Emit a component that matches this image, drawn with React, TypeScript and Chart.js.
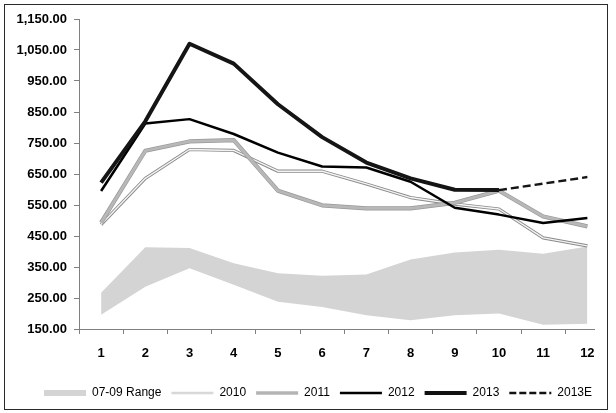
import React, { useEffect, useRef } from 'react';
import { Chart, registerables } from 'chart.js';

Chart.register(...registerables);

const months = [1, 2, 3, 4, 5, 6, 7, 8, 9, 10, 11, 12];
const monthLabels = ['1', '2', '3', '4', '5', '6', '7', '8', '9', '10', '11', '12'];

const range0709Low = [196, 286, 346, 293, 238, 221, 194, 178, 194, 200, 164, 167];
const range0709High = [267, 414, 411, 362, 330, 322, 326, 374, 397, 406, 393, 416];
const y2010 = [487, 636, 729, 726, 659, 659, 618, 574, 553, 537, 444, 418];
const y2011 = [493, 725, 755, 759, 596, 549, 539, 539, 557, 596, 513, 481];
const y2012 = [595, 813, 827, 779, 719, 674, 671, 625, 541, 519, 492, 508];
const y2013 = [622, 820, 1070, 1006, 875, 769, 687, 636, 599, 598, null, null];
const y2013E = [null, null, null, null, null, null, null, null, null, 598, 619, 640];

const yMin = 150;
const yMax = 1150;
const yStep = 100;

const FONT = 'Liberation Sans, Arial, sans-serif';

const pts = (arr: (number | null)[]) => arr.map((v, i) => ({ x: months[i], y: v }));

export default function App() {
  const ref = useRef<HTMLCanvasElement>(null);

  useEffect(() => {
    if (!ref.current) return;

    const borderPlugin = {
      id: 'outerBorder',
      beforeDraw(chart: any) {
        const lg = chart.legend;
        if (lg && !lg._shifted) {
          lg.left += 8;
          lg.right += 8;
          lg._shifted = true;
        }
      },
      afterDraw(chart: any) {
        const ctx = chart.ctx;
        ctx.save();
        ctx.strokeStyle = '#2a2a2a';
        ctx.lineWidth = 1;
        ctx.strokeRect(4.5, 4.5, 603, 405);
        ctx.restore();
      },
    };

    const legendItems = [
      { text: '07-09 Range', fillStyle: '#d4d4d4', strokeStyle: '#d4d4d4', lineWidth: 0, pointStyle: 'rect', datasetIndex: 1 },
      { text: '2010', fillStyle: '#dcdcdc', strokeStyle: '#d8d8d8', lineWidth: 2.5, pointStyle: 'line', datasetIndex: 3 },
      { text: '2011', fillStyle: '#b4b4b4', strokeStyle: '#b4b4b4', lineWidth: 3.5, pointStyle: 'line', datasetIndex: 5 },
      { text: '2012', fillStyle: '#000', strokeStyle: '#000', lineWidth: 2.5, pointStyle: 'line', datasetIndex: 6 },
      { text: '2013', fillStyle: '#111', strokeStyle: '#111', lineWidth: 4, pointStyle: 'line', datasetIndex: 7 },
      { text: '2013E', fillStyle: '#111', strokeStyle: '#111', lineWidth: 2.5, lineDash: [7, 3], pointStyle: 'line', datasetIndex: 8 },
    ].map((it) => ({ hidden: false, fontColor: '#000', lineDash: [], ...it }));

    const common = { pointRadius: 0, pointHoverRadius: 0, fill: false, tension: 0, borderJoinStyle: 'round' as const };

    const chart = new Chart(ref.current, {
      type: 'line',
      data: {
        datasets: [
          { ...common, label: 'range-low', data: pts(range0709Low), borderWidth: 0, borderColor: 'rgba(0,0,0,0)', order: 12 },
          { ...common, label: '07-09 Range', data: pts(range0709High), borderWidth: 0, borderColor: 'rgba(0,0,0,0)', fill: '-1', backgroundColor: '#d4d4d4', order: 11 },
          { ...common, label: '2010-edge', data: pts(y2010), borderColor: '#8a8a8a', borderWidth: 3.2, order: 10 },
          { ...common, label: '2010', data: pts(y2010), borderColor: '#f4f4f4', borderWidth: 1.4, order: 9 },
          { ...common, label: '2011-edge', data: pts(y2011), borderColor: '#999999', borderWidth: 4.2, order: 8 },
          { ...common, label: '2011', data: pts(y2011), borderColor: '#b8b8b8', borderWidth: 2.8, order: 7 },
          { ...common, label: '2012', data: pts(y2012), borderColor: '#000000', borderWidth: 2.5, order: 6 },
          { ...common, label: '2013', data: pts(y2013), borderColor: '#151515', borderWidth: 4, order: 5 },
          { ...common, label: '2013E', data: pts(y2013E), borderColor: '#151515', borderWidth: 2.5, borderDash: [8, 4], order: 4 },
        ] as any,
      },
      options: {
        animation: false,
        responsive: false,
        events: [],
        layout: { padding: { left: 8, right: 22, top: 19, bottom: 4 } },
        plugins: {
          tooltip: { enabled: false },
          legend: {
            position: 'bottom',
            align: 'end',
            onClick: () => {},
            labels: {
              usePointStyle: true,
              pointStyleWidth: 42,
              boxHeight: 6,
              padding: 10,
              color: '#000',
              font: { family: FONT, size: 12 },
              generateLabels: () => legendItems as any,
            },
          },
        },
        scales: {
          x: {
            type: 'linear',
            min: 0.5,
            max: 12.15,
            afterBuildTicks: (s: any) => {
              const t: any[] = [];
              for (let v = 0.5; v <= 12; v += 0.5) t.push({ value: v });
              s.ticks = t;
            },
            afterFit: (s: any) => {
              s.height = 48;
            },
            ticks: {
              autoSkip: false,
              maxRotation: 0,
              padding: 12,
              color: '#000',
              font: { family: FONT, size: 13, weight: 'bold' },
              callback: (v: any) => (Number.isInteger(v) ? monthLabels[v - 1] : ''),
            },
            grid: {
              drawOnChartArea: false,
              drawTicks: true,
              tickLength: 5,
              tickColor: (c: any) => (c.tick && c.tick.value % 1 !== 0 ? '#808080' : 'rgba(0,0,0,0)'),
            },
            border: { color: '#808080', width: 1 },
          },
          y: {
            min: yMin,
            max: yMax,
            afterFit: (s: any) => {
              s.width = 71;
            },
            ticks: {
              stepSize: yStep,
              padding: 7,
              color: '#000',
              font: { family: FONT, size: 13, weight: 'bold' },
              callback: (v: any) =>
                Number(v).toLocaleString('en-US', { minimumFractionDigits: 2, maximumFractionDigits: 2 }),
            },
            grid: { drawOnChartArea: false, drawTicks: true, tickLength: 5, tickColor: '#808080' },
            border: { color: '#808080', width: 1 },
          },
        },
      } as any,
      plugins: [borderPlugin],
    });

    return () => chart.destroy();
  }, []);

  return (
    <div style={{ position: 'fixed', left: 0, top: 0, width: 616, height: 413, background: '#fff' }}>
      <canvas ref={ref} width={616} height={413} style={{ display: 'block' }} />
    </div>
  );
}
